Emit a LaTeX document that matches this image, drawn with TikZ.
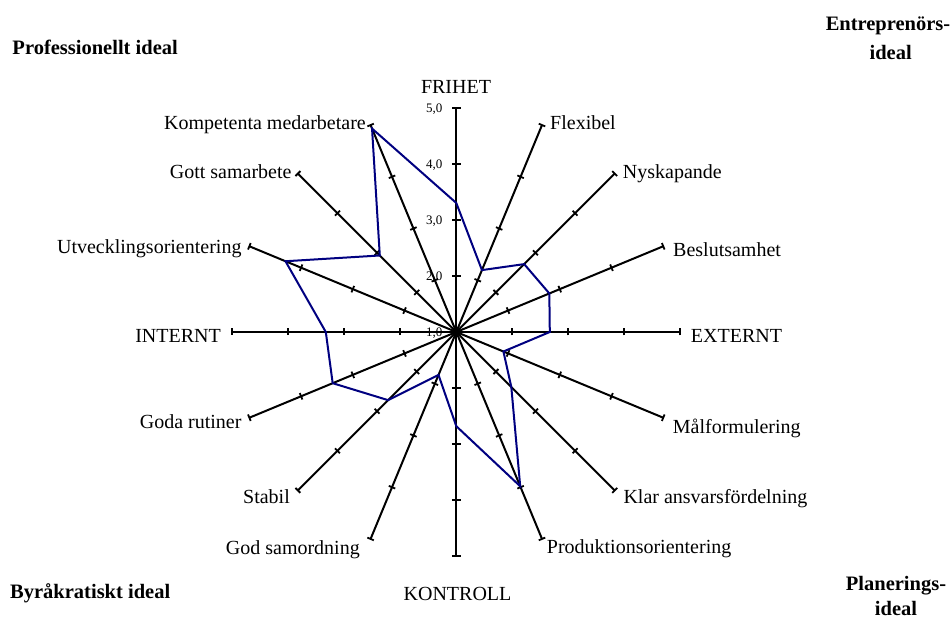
\documentclass[tikz,border=0pt]{standalone}
\usepackage{fontspec}
\setmainfont{Liberation Serif}
\definecolor{navyblue}{RGB}{0,0,128}
\begin{document}
\begin{tikzpicture}[x=1pt,y=1pt,
  axisline/.style={line width=2pt, black},
  tickline/.style={line width=1.8pt, black},
  dataline/.style={line width=2pt, draw=navyblue, line join=miter},
  lab/.style={inner sep=0pt, font=\fontsize{20}{24}\selectfont},
  titlelab/.style={inner sep=0pt, font=\fontsize{20.5}{24}\selectfont\bfseries},
  vlab/.style={inner sep=0pt, anchor=base east, font=\fontsize{13}{15}\selectfont}]
\useasboundingbox (0,0) rectangle (951,621);
\coordinate (C) at (456.3,289);
% axes with ticks
\foreach \i in {0,...,15}{
  \pgfmathsetmacro{\ang}{90-22.5*\i}
  \pgfmathsetmacro{\tl}{ifthenelse(\i==0 || \i==8, 4.5, 3.5)}
  \begin{scope}[shift={(C)}, rotate=\ang]
    \coordinate (e\i) at (224,0);
    \draw[axisline] (C) -- (e\i);
    \foreach \k in {1,...,4}{
      \draw[tickline] (56*\k,-\tl) -- (56*\k,\tl);
    }
  \end{scope}
}
% value labels
\node[vlab] (v1) at (442.5,284.5) {1,0};
\node[vlab] (v2) at (442.5,340.5) {2,0};
\node[vlab] (v3) at (442.5,396.5) {3,0};
\node[vlab] (v4) at (442.5,452.5) {4,0};
\node[vlab] (v5) at (442.5,508.5) {5,0};
% data polygon
\foreach \a/\r [count=\i from 0] in {90/129.0, 67.5/67, 45/96, 22.5/100.7, 0/93.5, -22.5/51, -45/77.8, -67.5/167, -90/94.2, -112.5/46.5, -135/96.4, -157.5/133.8, 180/130.5, 157.5/184.9, 135/108.2, 112.5/220.2}{
  \begin{scope}[shift={(C)}, rotate=\a]
    \coordinate (p\i) at (\r,0);
  \end{scope}
}
\draw[dataline] (p0) \foreach \i in {1,...,15}{ -- (p\i)} -- cycle;
% axis labels
\node[lab, anchor=base] (lFRIHET) at (456,527.7) {FRIHET};
\node[lab, anchor=base west] (lFlex) at (550,491.5) {Flexibel};
\node[lab, anchor=base west] (lNysk) at (622.7,442) {Nyskapande};
\node[lab, anchor=base west] (lBesl) at (673,364.3) {Beslutsamhet};
\node[lab, anchor=base west] (lEXT) at (690.7,278) {EXTERNT};
\node[lab, anchor=base west] (lMal) at (672.7,187.7) {Målformulering};
\node[lab, anchor=base west] (lKlar) at (623.3,117) {Klar ansvarsfördelning};
\node[lab, anchor=base west] (lProd) at (546.7,67.7) {Produktionsorientering};
\node[lab, anchor=base] (lKON) at (457.5,20) {KONTROLL};
\node[lab, anchor=base east] (lGod) at (360,66) {God samordning};
\node[lab, anchor=base east] (lStab) at (290,117) {Stabil};
\node[lab, anchor=base east] (lRut) at (241.7,192.7) {Goda rutiner};
\node[lab, anchor=base east] (lINT) at (221,278.7) {INTERNT};
\node[lab, anchor=base east] (lUtv) at (241.7,367.7) {Utvecklingsorientering};
\node[lab, anchor=base east] (lSam) at (291.7,442) {Gott samarbete};
\node[lab, anchor=base east] (lKomp) at (366,491.7) {Kompetenta medarbetare};
% corner titles
\node[titlelab, anchor=base west] (tProf) at (12.3,566) {Professionellt ideal};
\node[titlelab, anchor=base] (tEnt1) at (888,590.3) {Entreprenörs-};
\node[titlelab, anchor=base] (tEnt2) at (890.7,561.7) {ideal};
\node[titlelab, anchor=base west] (tByr) at (10,22.7) {Byråkratiskt ideal};
\node[titlelab, anchor=base] (tPlan1) at (896,30) {Planerings-};
\node[titlelab, anchor=base] (tPlan2) at (896,5) {ideal};
\end{tikzpicture}
\end{document}
